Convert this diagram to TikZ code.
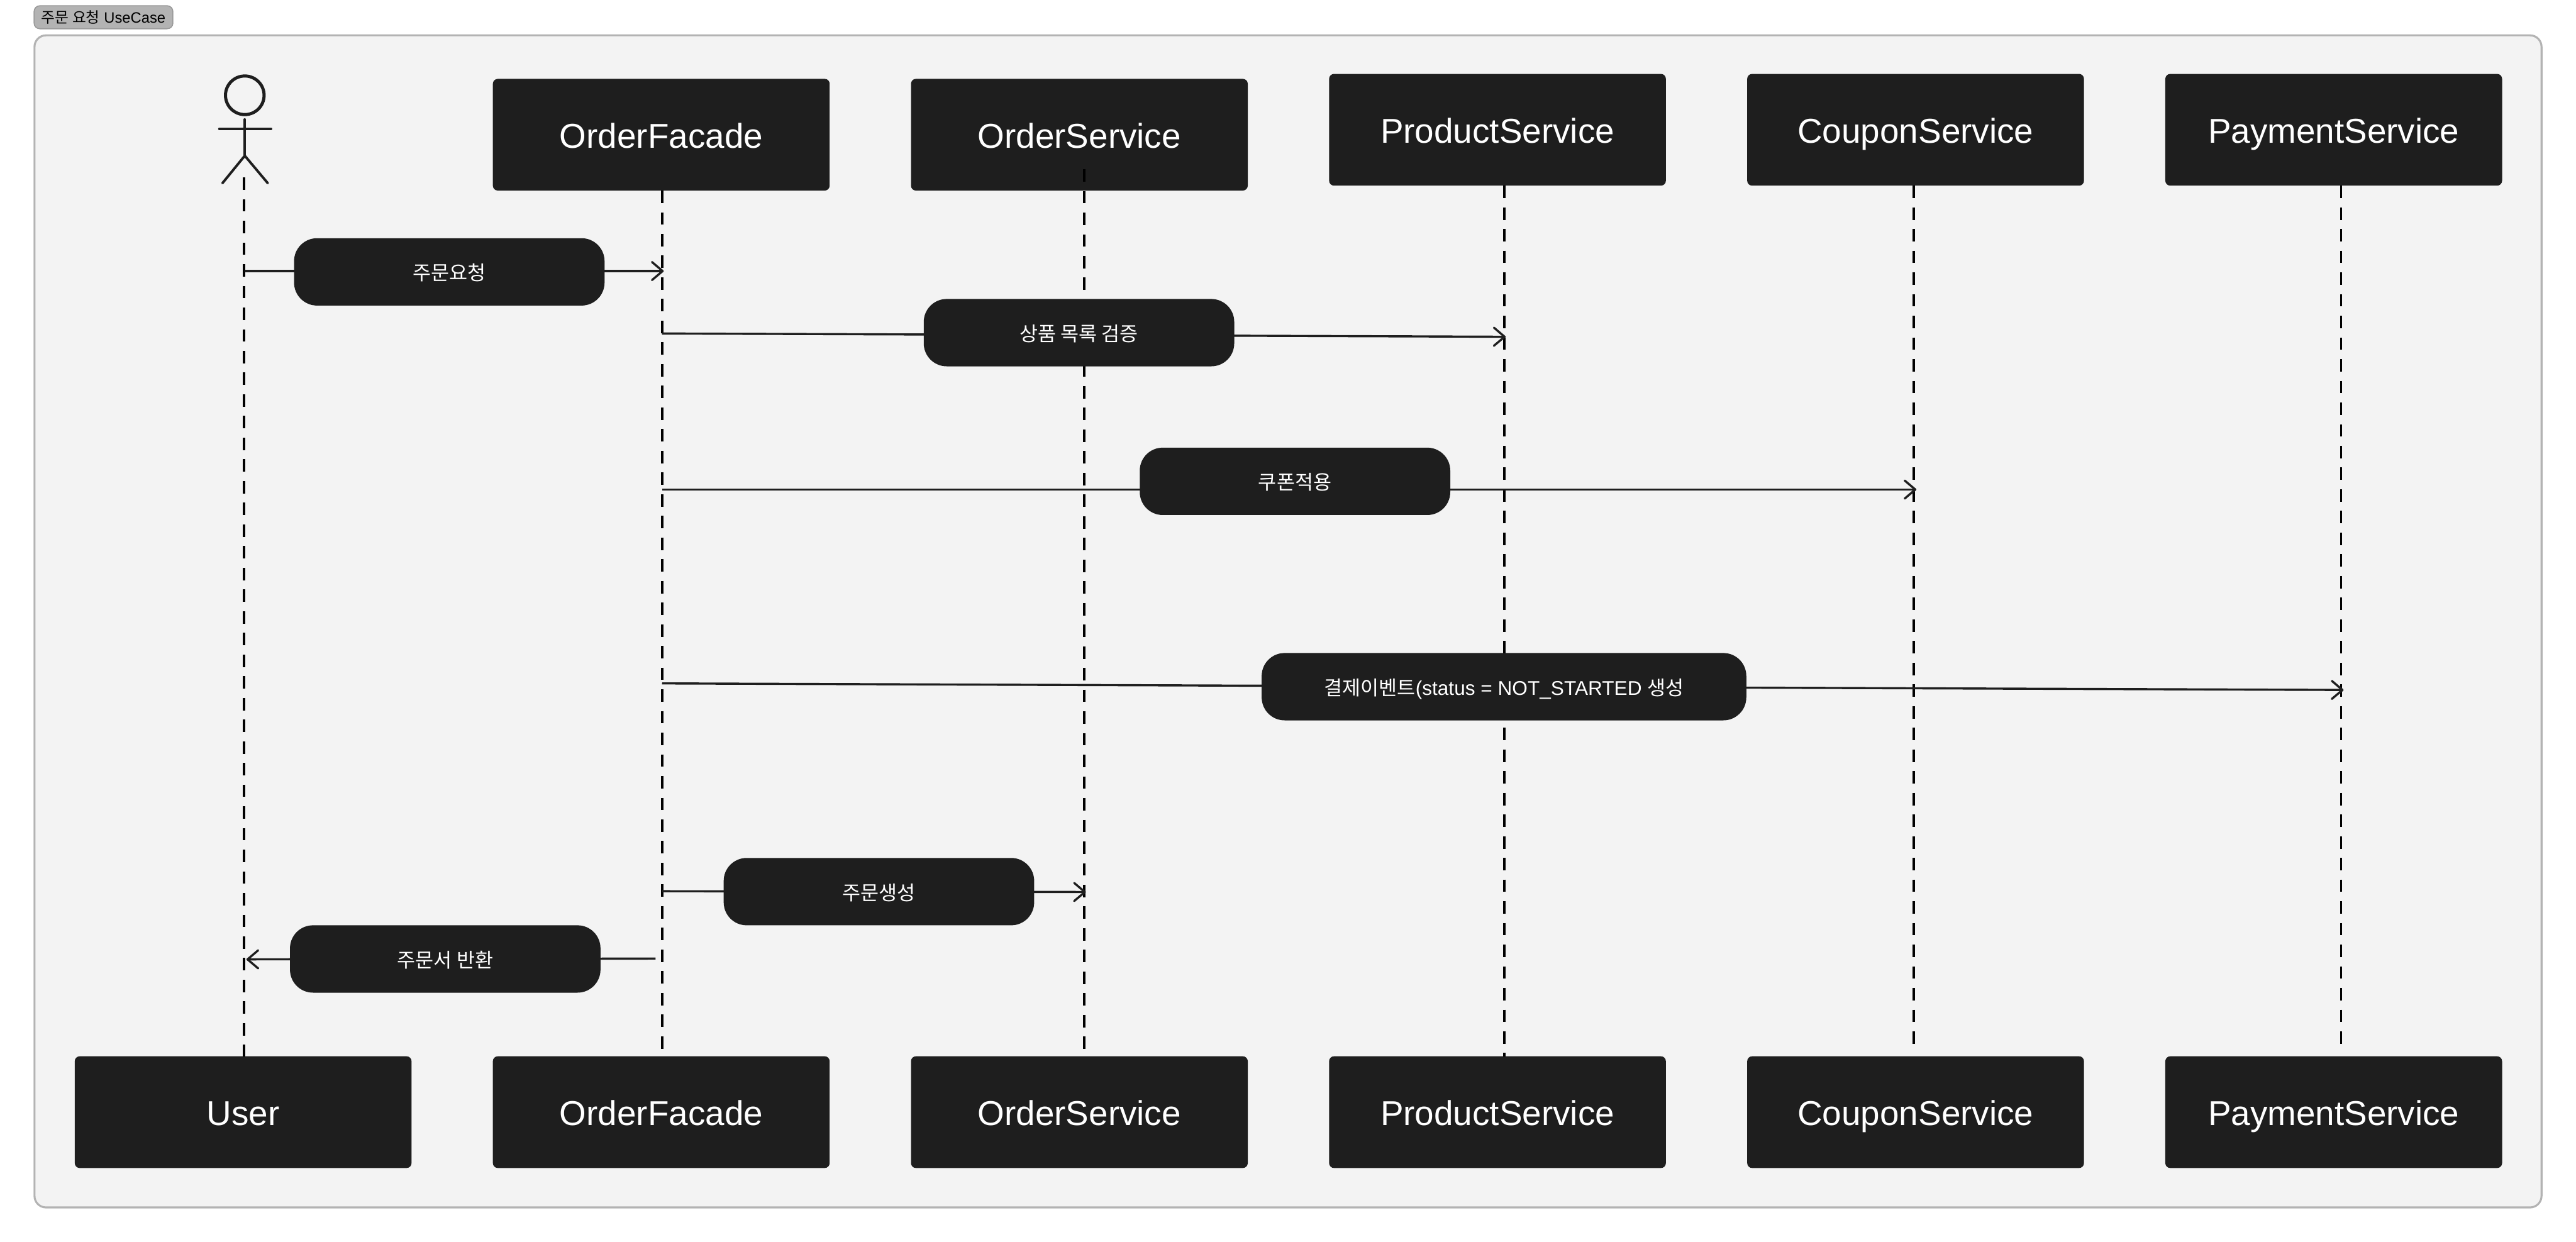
\documentclass[tikz,border=0pt]{standalone}
\usepackage{fontspec}
\usepackage{xcolor}
\usepackage{tikz}
\usetikzlibrary{arrows.meta,positioning}
\setmainfont{Liberation Sans}
\newfontfamily\kr{Noto Sans CJK KR}
\definecolor{ink}{HTML}{1E1E1E}
\definecolor{panel}{HTML}{F3F3F3}
\definecolor{edge}{HTML}{B3B3B3}

\begin{document}
\begin{tikzpicture}[
  x=1pt, y=-1pt,
  node distance=49.5pt and 49.5pt,
  svc/.style={fill=ink, text=white, rounded corners=3pt, minimum width=205pt, minimum height=68pt, inner sep=0pt, outer sep=0pt, text height=16pt, text depth=0pt, font=\fontsize{21}{25}\selectfont},
  pill/.style={fill=ink, text=white, rounded corners=14pt, minimum height=41pt, minimum width=189pt, inner sep=0pt, outer sep=0pt, text height=10.4pt, text depth=0pt, font=\fontsize{12.1}{14}\selectfont},
  life/.style={draw=black, line width=1.5pt, dash pattern=on 7.6pt off 5.6pt},
  msg/.style={draw=ink, line width=1.3pt, -{Straight Barb[round,length=6.5pt,width=11pt]}},
  stick/.style={draw=ink, line width=1.5pt, line cap=round}
]
\useasboundingbox (0,0) rectangle (1568,756);

\node[draw=edge, fill=panel, line width=1.2pt, rounded corners=7pt, minimum width=1526pt, minimum height=713.5pt, inner sep=0pt] (frame) at (784,378.25) {};
\node[draw=black!40, fill=edge, line width=.6pt, rounded corners=3.5pt, minimum width=84.5pt, minimum height=14pt, inner sep=0pt, font=\fontsize{9.1}{11}\selectfont] (tag) at (63,10.5) {{\kr 주문 요청} UseCase};

% top row
\node[svc] (fac) at (402.5,82) {OrderFacade};
\node[svc, right=of fac] (ord) {OrderService};
\node[svc, right=of ord, yshift=3pt] (prd) {ProductService};
\node[svc, right=of prd] (cpn) {CouponService};
\node[svc, right=of cpn] (pay) {PaymentService};

% bottom row
\node[svc] (usr2) at (148,677) {User};
\node[svc, right=of usr2] (fac2) {OrderFacade};
\node[svc, right=of fac2] (ord2) {OrderService};
\node[svc, right=of ord2] (prd2) {ProductService};
\node[svc, right=of prd2] (cpn2) {CouponService};
\node[svc, right=of cpn2] (pay2) {PaymentService};

% actor
\node[circle, draw=ink, line width=1.9pt, minimum size=23.5pt, inner sep=0pt] (head) at (149,58) {};
\coordinate (neck) at (149,72.7);
\coordinate (hip) at (149,94.8);
\coordinate (armL) at (133.5,78.4);
\coordinate (armR) at (165,78.4);
\coordinate (legL) at (135.4,111.5);
\coordinate (legR) at (163,111.5);
\draw[stick] (neck)--(hip);
\draw[stick] (armL)--(armR);
\draw[stick] (legL)--(hip)--(legR);

% lifelines
\coordinate (usrTop) at (148.6,108);
\draw[life] (usrTop)--([xshift=.6pt]usr2.north);
\draw[life] ([xshift=.5pt]fac.south)--([xshift=.5pt,yshift=3pt]fac2.north);
\draw[life] ([xshift=3pt,yshift=13pt]ord.south)--([xshift=3pt]ord2.north);
\draw[life] ([xshift=4pt]prd.south)--([xshift=4pt]prd2.north);
\draw[life] ([xshift=-1pt]cpn.south)--([xshift=-1pt,yshift=4pt]cpn2.north);
\draw[life] ([xshift=4.5pt]pay.south)--([xshift=4.5pt,yshift=5pt]pay2.north);

% messages
\coordinate (m1a) at (149,165);   \coordinate (m1b) at (404,165);
\coordinate (m2a) at (403,203);   \coordinate (m2b) at (916.5,205);
\coordinate (m3a) at (403,298);   \coordinate (m3b) at (1166.5,298);
\coordinate (m4a) at (403,416);   \coordinate (m4b) at (1426.5,420);
\coordinate (m5a) at (403,542.5); \coordinate (m5b) at (661,543);
\coordinate (m6a) at (399,583.5); \coordinate (m6b) at (150,584);

\draw[msg] (m1a)-- node[pill, pos=.4882, yshift=-.5pt] (req) {\kr 주문요청} (m1b);
\draw[msg] (m2a)-- node[pill, pos=.4942, yshift=1.5pt] (chk) {\kr 상품 목록 검증} (m2b);
\draw[msg] (m3a)-- node[pill, pos=.5046, yshift=5pt] (cpnmsg) {\kr 쿠폰적용} (m3b);
\draw[msg] (m4a)-- node[pill, pos=.5007, minimum width=295pt] (evt) {{\kr 결제이벤트}(status = NOT\_STARTED {\kr 생성}} (m4b);
\draw[msg] (m5a)-- node[pill, pos=.5116] (mk) {\kr 주문생성} (m5b);
\draw[msg] (m6a)-- node[pill, pos=.514] (ret) {\kr 주문서 반환} (m6b);
\end{tikzpicture}
\end{document}
